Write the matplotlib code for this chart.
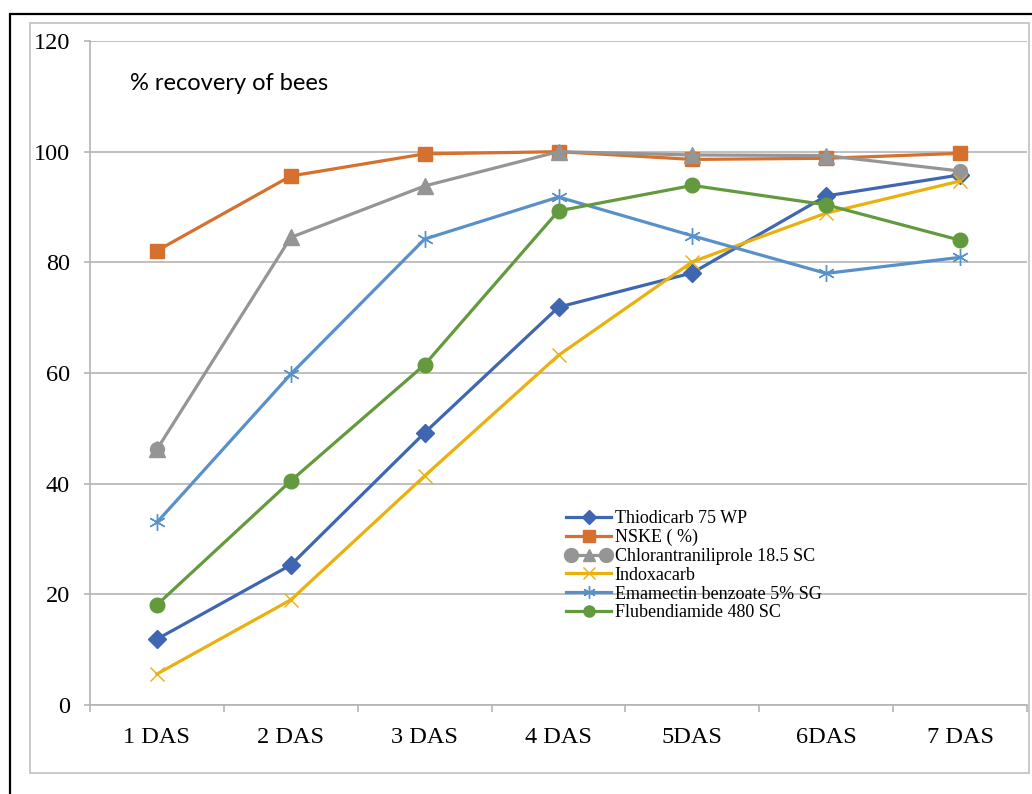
import numpy as np
import matplotlib.pyplot as plt
from matplotlib.lines import Line2D
from matplotlib.patches import Rectangle
from matplotlib.legend_handler import HandlerLine2D

# bee recovery (%) after spraying, by days after spray
days = ['1 DAS', '2 DAS', '3 DAS', '4 DAS', '5DAS', '6DAS', '7 DAS']
thiodicarb = [11.9, 25.3, 49.2, 71.9, 78.1, 92.0, 95.8]
nske = [82.1, 95.6, 99.6, 100.0, 98.6, 98.8, 99.7]
chlorantraniliprole = [46.2, 84.5, 93.8, 100.0, 99.4, 99.3, 96.5]
indoxacarb = [5.6, 19.0, 41.4, 63.2, 80.1, 88.9, 94.7]
emamectin = [33.0, 59.8, 84.2, 91.8, 84.8, 78.0, 80.9]
flubendiamide = [18.1, 40.5, 61.5, 89.3, 93.9, 90.4, 84.0]

c_blue = '#3f66b0'
c_orange = '#d6702e'
c_gray = '#959595'
c_yellow = '#e9b00e'
c_lblue = '#5891c9'
c_green = '#629a3d'
grid_c = '#b4b4b4'

W, H = 1032, 794
fig = plt.figure(figsize=(W / 100, H / 100), dpi=100)
ax = fig.add_axes([90 / W, 1 - 705 / H, (1027 - 90) / W, (705 - 41) / H])

x = np.arange(len(days))
lw = 2.3

ax.plot(x, thiodicarb, color=c_blue, lw=lw, marker='D', ms=9.5, label='Thiodicarb 75 WP')
ax.plot(x, nske, color=c_orange, lw=lw, marker='s', ms=10, label='NSKE ( %)')
# gray series: circles on first and last day, triangles elsewhere
ax.plot(x, chlorantraniliprole, color=c_gray, lw=0, marker='o', ms=10, markevery=[0, 6])
ax.plot(x, chlorantraniliprole, color=c_gray, lw=lw, marker='^', ms=11, markevery=[0, 1, 2, 3, 4, 5])
ax.plot(x, indoxacarb, color=c_yellow, lw=lw, marker='x', ms=10.5, mew=1.0, label='Indoxacarb')
ax.plot(x, emamectin, color=c_lblue, lw=lw, marker=(6, 2, 0), ms=12, mew=1.0,
        label='Emamectin benzoate 5% SG')
ax.plot(x, flubendiamide, color=c_green, lw=lw, marker='o', ms=10.5, label='Flubendiamide 480 SC')

ax.set_xlim(-0.5, 6.5)
ax.set_ylim(0, 120)
ax.set_yticks(np.arange(0, 121, 20))
ax.yaxis.grid(True, color=grid_c, lw=1.2)
ax.set_axisbelow(True)

for s in ['top', 'right']:
    ax.spines[s].set_visible(False)
for s in ['left', 'bottom']:
    ax.spines[s].set_color(grid_c)
    ax.spines[s].set_linewidth(1.2)

ax.set_xticks(x, days)
ax.set_xticks(np.arange(-0.5, 7), minor=True)
ax.tick_params(axis='x', which='major', length=0, pad=16)
ax.tick_params(axis='x', which='minor', length=5, width=1.2, color=grid_c, direction='out')
ax.tick_params(axis='y', length=4.5, width=1.2, color=grid_c, pad=10)
for lab in ax.get_xticklabels() + ax.get_yticklabels():
    lab.set_fontfamily('Liberation Serif')
    lab.set_fontsize(17.5)

fig.text(130 / W, 1 - 83 / H, '% recovery of bees', fontsize=17, family='Lato',
         va='center', ha='left')

# legend
h_thio = Line2D([], [], color=c_blue, lw=lw, marker='D', ms=7)
h_nske = Line2D([], [], color=c_orange, lw=lw, marker='s', ms=8)
h_chl_c = Line2D([], [], color=c_gray, lw=lw, marker='o', ms=10)
h_chl_t = Line2D([], [], color=c_gray, lw=0, marker='^', ms=9)
h_ind = Line2D([], [], color=c_yellow, lw=lw, marker='x', ms=8, mew=1.0)
h_ema = Line2D([], [], color=c_lblue, lw=lw, marker=(6, 2, 0), ms=9, mew=1.0)
h_flu = Line2D([], [], color=c_green, lw=lw, marker='o', ms=8)
leg = ax.legend(
    [h_thio, h_nske, (h_chl_c, h_chl_t), h_ind, h_ema, h_flu],
    ['Thiodicarb 75 WP', 'NSKE ( %)', 'Chlorantraniliprole 18.5 SC', 'Indoxacarb',
     'Emamectin benzoate 5% SG', 'Flubendiamide 480 SC'],
    handler_map={h_chl_c: HandlerLine2D(numpoints=2)},
    numpoints=1, frameon=False, loc='upper left',
    bbox_to_anchor=(566 / W, 1 - 510 / H), bbox_transform=fig.transFigure,
    borderpad=0, borderaxespad=0, labelspacing=0.1, handlelength=2.5,
    handletextpad=0.2, prop={'family': 'Liberation Serif', 'size': 13},
)

# chart frames
fig.patches.append(Rectangle((30 / W, 1 - 773 / H), (1029 - 30) / W, (773 - 23) / H,
                             transform=fig.transFigure, fill=False, ec='#c0c0c0', lw=1.2))
fig.patches.append(Rectangle((10 / W, -0.1), 1.2, 1.1 - 14 / H,
                             transform=fig.transFigure, fill=False, ec='black', lw=1.6))

fig.savefig('out.png', dpi=100)
